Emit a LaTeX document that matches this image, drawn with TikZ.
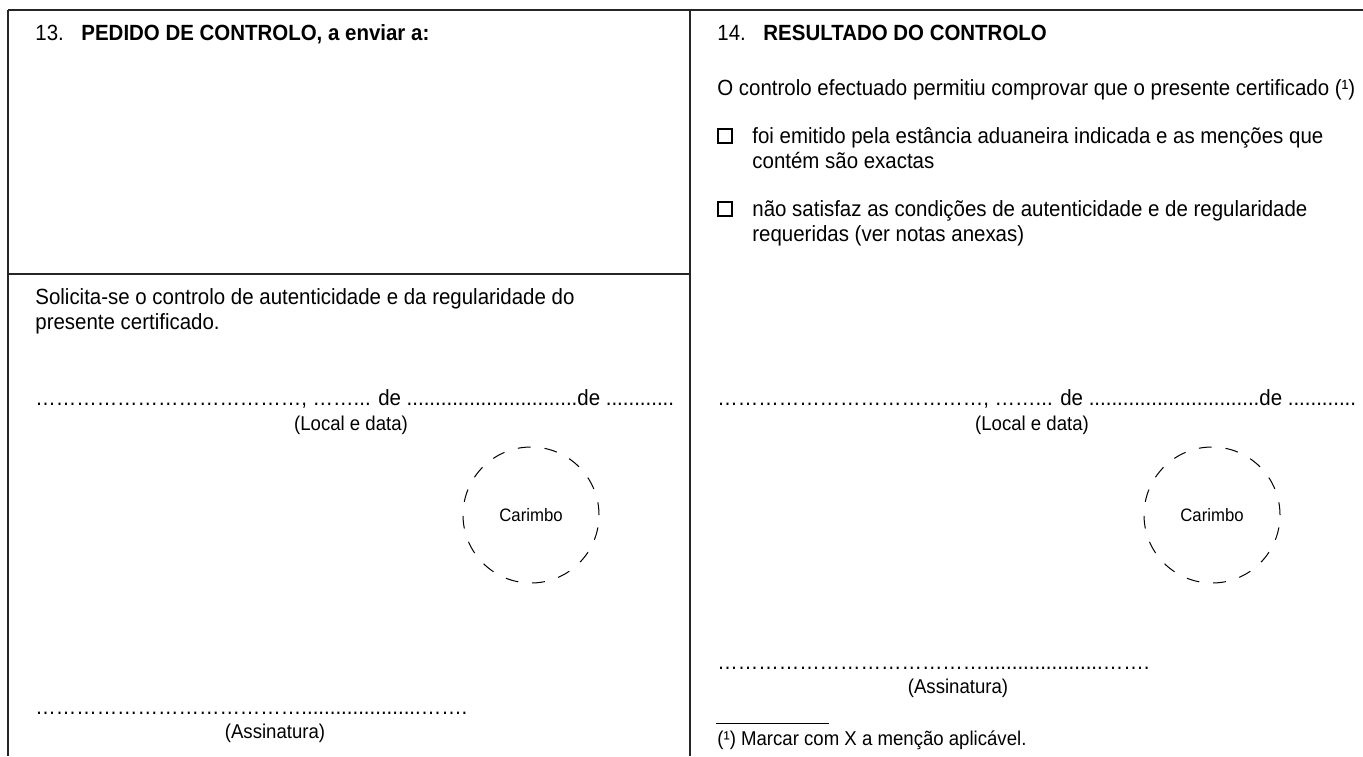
\documentclass[tikz,border=0pt]{standalone}
\usepackage{fontspec}
\setmainfont{Liberation Sans}[FakeStretch=0.93]
\usetikzlibrary{positioning}
\tikzset{
  frame/.style={line width=1pt, black!85},
  txt/.style={anchor=base west, inner sep=0pt, font=\fontsize{11}{12.5}\selectfont},
  head/.style={txt},
  small/.style={anchor=base, inner sep=0pt, font=\fontsize{10}{12}\selectfont},
  tick/.style={draw, line width=0.7pt, minimum size=7pt, inner sep=0pt},
  stamp/.style={circle, draw, line width=0.5pt, dash pattern=on 6.4pt off 7pt,
    minimum size=68pt, inner sep=0pt, font=\fontsize{9}{11}\selectfont}
}
\newcommand{\eld}{…………………………………, ……... de ..............................de ............}
\newcommand{\sigd}{………………………………….....................…….}

\begin{document}
\begin{tikzpicture}[x=0.5pt, y=-0.5pt]
  \useasboundingbox (0,0) rectangle (1363,756);
  % frame
  \draw[frame] (8,10) -- (1363,10);
  \draw[frame] (8,10) -- (8,756);
  \draw[frame] (690,10) -- (690,756);
  \draw[frame] (8,274) -- (690,274);

  % box 13
  \node[head] (h13) at (35,40) {13.\hspace{0.8em}\textbf{PEDIDO DE CONTROLO, a enviar a:}};
  \node[txt] (reqA) at (35,304) {Solicita-se o controlo de autenticidade e da regularidade do};
  \node[txt] (reqB) at (35,329) {presente certificado.};
  \node[txt] (dateL) at (35,405) {\eld};
  \node[small] (locL) at (351,430) {(Local e data)};
  \node[stamp] (stampL) at (531,515) {Carimbo};
  \node[txt] (sigL) at (35,714) {\sigd};
  \node[small] (nameL) at (275,738) {(Assinatura)};

  % box 14
  \node[head] (h14) at (717,40) {14.\hspace{0.8em}\textbf{RESULTADO DO CONTROLO}};
  \node[txt] (intro) at (717,95) {O controlo efectuado permitiu comprovar que o presente certificado (¹)};
  \node[tick] (boxA) at (725,136) {};
  \node[txt] (okA) at (752,143) {foi emitido pela estância aduaneira indicada e as menções que};
  \node[txt] (okB) at (752,168) {contém são exactas};
  \node[tick] (boxB) at (725,209) {};
  \node[txt] (noA) at (752,216) {não satisfaz as condições de autenticidade e de regularidade};
  \node[txt] (noB) at (752,241) {requeridas (ver notas anexas)};
  \node[txt] (dateR) at (717,405) {\eld};
  \node[small] (locR) at (1032,430) {(Local e data)};
  \node[stamp] (stampR) at (1212,515) {Carimbo};
  \node[txt] (sigR) at (717,669) {\sigd};
  \node[small] (nameR) at (958,693) {(Assinatura)};
  \draw[line width=0.5pt] (716,723) -- (829,723);
  \node[small, anchor=base west] (note) at (717,745) {(¹) Marcar com X a menção aplicável.};
\end{tikzpicture}
\end{document}
